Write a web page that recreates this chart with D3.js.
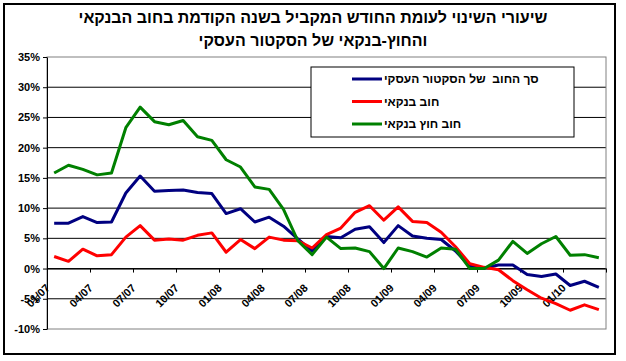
<!DOCTYPE html>
<html>
<head>
<meta charset="utf-8">
<script src="https://cdn.jsdelivr.net/npm/d3@7"></script>
<style>
  body { margin: 0; background: #fff; }
  text { font-family: "Liberation Sans", Arial, sans-serif; font-weight: bold; }
</style>
</head>
<body>
<div id="chart"></div>
<script>
// months 01/07 .. 03/10
var months = ["01/07","02/07","03/07","04/07","05/07","06/07","07/07","08/07","09/07","10/07","11/07","12/07",
              "01/08","02/08","03/08","04/08","05/08","06/08","07/08","08/08","09/08","10/08","11/08","12/08",
              "01/09","02/09","03/09","04/09","05/09","06/09","07/09","08/09","09/09","10/09","11/09","12/09",
              "01/10","02/10","03/10"];

// total business sector debt
var totalDebt = [7.5, 7.5, 8.6, 7.6, 7.7, 12.5, 15.3, 12.8, 12.9, 13.0, 12.6, 12.4,
                 9.1, 9.9, 7.7, 8.5, 7.0, 4.9, 2.9, 5.3, 5.1, 6.5, 6.9, 4.3,
                 7.1, 5.4, 5.0, 4.8, 2.9, 0.4, 0.1, 0.6, 0.6, -1.0, -1.3, -0.9,
                 -2.8, -2.1, -3.1];

// bank debt
var bankDebt = [2.0, 1.2, 3.2, 2.1, 2.3, 5.2, 7.1, 4.7, 4.9, 4.7, 5.5, 5.9,
                2.7, 4.8, 3.3, 5.2, 4.7, 4.6, 3.4, 5.6, 6.7, 9.3, 10.4, 8.0,
                10.2, 7.8, 7.6, 6.0, 3.6, 0.8, 0.2, -0.2, -2.0, -3.5, -4.9, -5.8,
                -6.9, -6.0, -6.8];

// non-bank debt
var nonBankDebt = [15.8, 17.1, 16.4, 15.5, 15.8, 23.3, 26.7, 24.3, 23.8, 24.5, 21.8, 21.2,
                   18.0, 16.8, 13.5, 13.1, 9.8, 4.6, 2.3, 5.2, 3.3, 3.4, 2.8, 0.0,
                   3.4, 2.8, 1.9, 3.4, 3.2, 0.0, 0.0, 1.4, 4.5, 2.5, 4.1, 5.3,
                   2.2, 2.3, 1.8];

var seriesNames = ["סך החוב  של הסקטור העסקי", "חוב בנקאי", "חוב חוץ בנקאי"];
var seriesColors = ["#000080", "#ff0000", "#008000"];
var yTicks = [-10, -5, 0, 5, 10, 15, 20, 25, 30, 35];
var titleLines = ["שיעורי השינוי לעומת החודש המקביל בשנה הקודמת בחוב הבנקאי",
                  "והחוץ-בנקאי של הסקטור העסקי"];

var W = 626, H = 361;
var plot = { left: 47, right: 606, top: 57, bottom: 329 };

var svg = d3.select("#chart")
    .append("svg")
    .attr("width", W)
    .attr("height", H);

// outer frame
svg.append("rect")
    .attr("x", 4).attr("y", 4)
    .attr("width", 611).attr("height", 350)
    .attr("fill", "#fff")
    .attr("stroke", "#000")
    .attr("stroke-width", 2);

// title
svg.selectAll("text.title")
    .data(titleLines)
    .enter().append("text")
    .attr("class", "title")
    .attr("x", 313)
    .attr("y", function(d, i) { return 23 + i * 23; })
    .attr("text-anchor", "middle")
    .style("font-size", "16px")
    .text(function(d) { return d; });

var x = d3.scaleLinear().domain([0, months.length]).range([plot.left, plot.right]);
var y = d3.scaleLinear().domain([-10, 35]).range([plot.bottom, plot.top]);

// grid lines
svg.append("g")
    .selectAll("line")
    .data(yTicks.slice(1, -1))
    .enter().append("line")
    .attr("x1", plot.left).attr("x2", plot.right)
    .attr("y1", function(d) { return y(d); })
    .attr("y2", function(d) { return y(d); })
    .attr("stroke", "#000");

// plot border
svg.append("rect")
    .attr("x", plot.left).attr("y", plot.top)
    .attr("width", plot.right - plot.left)
    .attr("height", plot.bottom - plot.top)
    .attr("fill", "none")
    .attr("stroke", "#808080");

// y axis
var yAxis = svg.append("g")
    .attr("transform", "translate(" + plot.left + ",0)")
    .call(d3.axisLeft(y).tickValues(yTicks).tickSize(4).tickSizeOuter(0)
        .tickFormat(function(d) { return d + "%"; }));
yAxis.select(".domain").attr("stroke", "#000");
yAxis.selectAll("text")
    .attr("x", -7)
    .style("font-size", "11px")
    .style("font-family", "'Liberation Sans', Arial, sans-serif")
    .attr("fill", "#000");

// x axis on the 0% line, ticks between categories
var xTickVals = d3.range(0, months.length + 1, 3);
var xAxis = svg.append("g")
    .attr("transform", "translate(0," + y(0) + ")")
    .call(d3.axisBottom(x).tickValues(xTickVals).tickSize(4).tickSizeOuter(0)
        .tickFormat(function(d) { return d < months.length ? months[d] : ""; }));
xAxis.select(".domain").attr("stroke", "#000");
xAxis.selectAll("text")
    .attr("x", 0).attr("y", 0).attr("dy", 0)
    .attr("text-anchor", "end")
    .attr("transform", "translate(3,20) rotate(-45)")
    .style("font-size", "11px")
    .style("font-family", "'Liberation Sans', Arial, sans-serif")
    .attr("fill", "#000");

// lines
var line = d3.line()
    .x(function(d, i) { return x(i + 0.5); })
    .y(function(d) { return y(d); });

[totalDebt, bankDebt, nonBankDebt].forEach(function(s, k) {
    svg.append("path")
        .datum(s)
        .attr("d", line)
        .attr("fill", "none")
        .attr("stroke", seriesColors[k])
        .attr("stroke-width", 3)
        .attr("stroke-linejoin", "round");
});

// legend
var legend = svg.append("g").attr("class", "legend");
legend.append("rect")
    .attr("x", 311).attr("y", 67)
    .attr("width", 263).attr("height", 70)
    .attr("fill", "#fff")
    .attr("stroke", "#000");

seriesNames.forEach(function(name, k) {
    var ly = 79 + k * 22.5;
    legend.append("line")
        .attr("x1", 352).attr("x2", 382)
        .attr("y1", ly).attr("y2", ly)
        .attr("stroke", seriesColors[k])
        .attr("stroke-width", 3);
    legend.append("text")
        .attr("x", 384)
        .attr("y", ly + 4)
        .attr("xml:space", "preserve")
        .style("font-size", "12px")
        .text(name);
});
</script>
</body>
</html>
